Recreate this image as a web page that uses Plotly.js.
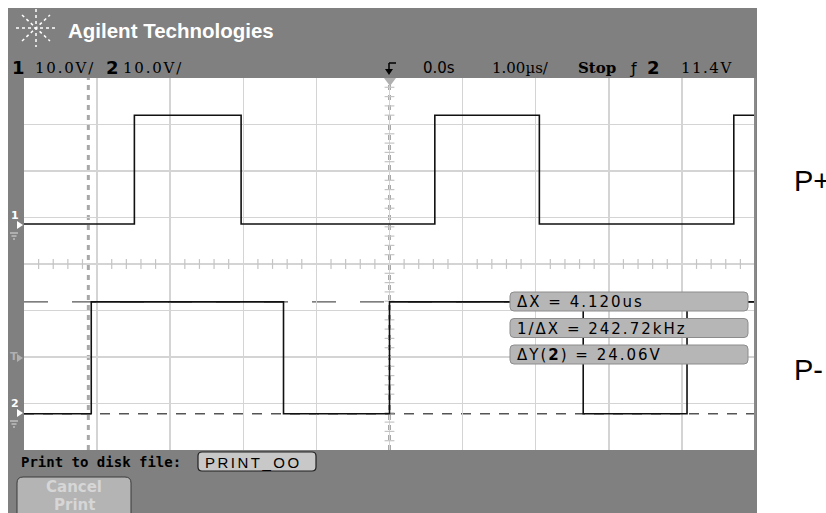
<!DOCTYPE html>
<html><head><meta charset="utf-8">
<script src="https://cdn.plot.ly/plotly-3.0.1.min.js"></script>
<style>html,body{margin:0;padding:0;background:#fff;} #c{width:826px;height:513px;}</style>
</head><body><div id="c"></div>
<script>
// Time in microseconds (1.00 us/div), volts relative to each channel's ground (10.0 V/div)
const ch1Times = [-5, -3.49, -2.03, 0.62, 2.05, 4.71, 5];
const ch1Volts = [0.2, 23.6, 0.2, 23.6, 0.2, 23.6, 23.6];
const ch2Times = [-5, -4.08, -1.45, 0.0, 2.65, 4.07, 5];
const ch2Volts = [0.0, 24.06, 0.0, 24.06, 0.0, 24.06, 24.06];
const ch1Ground = 8.4;    // ground marker position, display volts
const ch2Ground = -32.2;
const xCursors = [-4.12, 0];
const yCursors = [24.06, 0];
const measLabels = ['ΔX = 4.120us', '1/ΔX = 242.72kHz', 'ΔY(<b>2</b>) = 24.06V'];

const L = 24, R = 755, T = 78, B = 450;
const px = X => (X - L) / (R - L);
const py = Y => (B - Y) / (B - T);

function rrect(x0, y0, x1, y1, r) {
  const rx = r / (R - L), ry = r / (B - T);
  const a = px(x0), b = px(x1), top = py(y0), bot = py(y1);
  return `M${a + rx},${bot} L${b - rx},${bot} Q${b},${bot} ${b},${bot + ry} L${b},${top - ry} Q${b},${top} ${b - rx},${top} L${a + rx},${top} Q${a},${top} ${a},${top - ry} L${a},${bot + ry} Q${a},${bot} ${a + rx},${bot} Z`;
}

const shapes = [];
shapes.push({type: 'rect', xref: 'paper', yref: 'paper', x0: px(8), x1: px(757), y0: py(513), y1: py(8),
  fillcolor: '#808080', line: {width: 0}, layer: 'below'});
shapes.push({type: 'rect', xref: 'paper', yref: 'paper', x0: px(24), x1: px(755), y0: py(450), y1: py(78),
  fillcolor: '#ffffff', line: {width: 0}, layer: 'below'});
const cx = 36, cy = 28;
[[20, 0], [0, 19], [14, 13], [14, -13]].forEach(([dx, dy]) => {
  shapes.push({type: 'line', xref: 'paper', yref: 'paper', x0: px(cx - dx), x1: px(cx + dx), y0: py(cy - dy), y1: py(cy + dy),
    line: {color: '#ffffff', width: 1.5, dash: 'dot'}, layer: 'above'});
});
xCursors.forEach(t => shapes.push({type: 'line', xref: 'x', yref: 'paper', x0: t, x1: t, y0: 0, y1: 1,
  line: {color: '#a8a8a8', width: 3, dash: '5px,5px'}, layer: 'between'}));
yCursors.forEach((v, i) => shapes.push({type: 'line', xref: 'paper', yref: 'y', x0: 0, x1: 1, y0: ch2Ground + v, y1: ch2Ground + v,
  line: {color: '#555555', width: 1.3, dash: i === 0 ? '24px,24px' : '10px,9px'}, layer: 'between'}));
measLabels.forEach((m, i) => {
  const y0 = 292 + i * 26.5;
  shapes.push({type: 'path', xref: 'paper', yref: 'paper', path: rrect(510, y0, 748, y0 + 19, 4),
    fillcolor: '#b6b6b6', line: {color: '#8c8c8c', width: 1}, layer: 'above'});
});
shapes.push({type: 'path', xref: 'paper', yref: 'paper', path: rrect(198, 452, 316, 471, 4),
  fillcolor: '#c8c8c8', line: {color: '#202020', width: 1.2}, layer: 'above'});
shapes.push({type: 'path', xref: 'paper', yref: 'paper', path: rrect(17, 477, 131, 520, 6),
  fillcolor: '#b4b4b4', line: {color: '#3a3a3a', width: 1}, layer: 'above'});
shapes.push({type: 'line', xref: 'paper', yref: 'paper', x0: px(389), x1: px(396), y0: py(63), y1: py(63),
  line: {color: '#000', width: 1.5}, layer: 'above'});
shapes.push({type: 'line', xref: 'paper', yref: 'paper', x0: px(389), x1: px(389), y0: py(63), y1: py(72),
  line: {color: '#000', width: 1.5}, layer: 'above'});
shapes.push({type: 'path', xref: 'paper', yref: 'paper',
  path: `M${px(385)},${py(69)} L${px(393)},${py(69)} L${px(389)},${py(75)} Z`, fillcolor: '#000', line: {width: 0}, layer: 'above'});
shapes.push({type: 'path', xref: 'paper', yref: 'paper',
  path: `M${px(384)},${py(78)} L${px(396)},${py(78)} L${px(390)},${py(86)} Z`, fillcolor: '#b0b0b0', line: {width: 0}, layer: 'above'});
shapes.push({type: 'line', xref: 'paper', yref: 'paper', x0: 1, x1: 1, y0: py(450), y1: py(78),
  line: {color: '#8a8a8a', width: 2}, layer: 'above'});
// ground / trigger markers (arrows)
[[225, '#ffffff'], [413, '#ffffff'], [358, '#b0b0b0']].forEach(([Y, c]) => shapes.push({type: 'path', xref: 'paper', yref: 'paper',
  path: `M${px(17)},${py(Y - 4)} L${px(23)},${py(Y)} L${px(17)},${py(Y + 4)} Z`, fillcolor: c, line: {width: 0}, layer: 'above'}));
[233, 421].forEach(Y => [0, 3, 6].forEach(d => shapes.push({type: 'line', xref: 'paper', yref: 'paper',
  x0: px(10 + d / 2), x1: px(18 - d / 2), y0: py(Y + d), y1: py(Y + d), line: {color: '#dddddd', width: 1}, layer: 'above'})));

const tickX = [], tickY = [];
for (let k = -25; k <= 25; k++) if (k % 5 !== 0) tickX.push(k / 5);
for (let k = -20; k <= 20; k++) if (k % 5 !== 0) tickY.push(k * 2);

const traces = [
  {x: tickX, y: tickX.map(() => 0), mode: 'markers', hoverinfo: 'skip',
   marker: {symbol: 'line-ns', size: 7, line: {color: '#c4c4c4', width: 1.2}}},
  {x: tickY.map(() => 0), y: tickY, mode: 'markers', hoverinfo: 'skip',
   marker: {symbol: 'line-ew', size: 7, line: {color: '#c4c4c4', width: 1.2}}},
  {x: ch1Times, y: ch1Volts.map(v => v + ch1Ground), mode: 'lines', line: {shape: 'hv', color: '#111', width: 1.6}},
  {x: ch2Times, y: ch2Volts.map(v => v + ch2Ground), mode: 'lines', line: {shape: 'hv', color: '#111', width: 1.6}}
];

const mono = 'DejaVu Sans Mono';
const sans = 'DejaVu Sans';
const ann = [];
function A(text, X, Y, opts) {
  ann.push(Object.assign({text, xref: 'paper', yref: 'paper', x: px(X), y: py(Y), xanchor: 'left', yanchor: 'middle',
    showarrow: false, font: {family: sans, size: 15, color: '#000'}}, opts || {}));
}
A('<b>Agilent Technologies</b>', 66, 31, {font: {family: 'Liberation Sans', size: 20.5, color: '#fff'}});
A('<b>1</b>', 10, 67, {font: {family: sans, size: 18, color: '#000'}});
A('<span style="letter-spacing:1.8px">10.0V/</span>', 33, 68, {font: {family: 'DejaVu Serif', size: 15, color: '#000'}});
A('<b>2</b>', 104, 67, {font: {family: sans, size: 18, color: '#000'}});
A('<span style="letter-spacing:1.8px">10.0V/</span>', 121, 68, {font: {family: 'DejaVu Serif', size: 15, color: '#000'}});
A('0.0s', 421, 68, {font: {family: sans, size: 15, color: '#000'}});
A('1.00µs/', 490, 68, {font: {family: 'DejaVu Serif', size: 15, color: '#000'}});
A('<b>Stop</b>', 576, 68, {font: {family: 'DejaVu Serif', size: 15, color: '#000'}});
A('ƒ', 627, 68, {font: {family: sans, size: 16, color: '#000'}});
A('<b>2</b>', 645, 67, {font: {family: sans, size: 18, color: '#000'}});
A('<span style="letter-spacing:1.5px">11.4V</span>', 679, 68, {font: {family: 'DejaVu Serif', size: 15, color: '#000'}});
A('<b>1</b>', 9, 215, {font: {family: sans, size: 11, color: '#fff'}});
A('<b>2</b>', 9, 403, {font: {family: sans, size: 11, color: '#fff'}});
A('<b>T</b>', 8, 356, {font: {family: sans, size: 11, color: '#b0b0b0'}});
measLabels.forEach((m, i) => A('<span style="letter-spacing:2px">' + m + '</span>', 515, 302 + i * 26.5,
  {font: {family: sans, size: 15, color: '#000'}}));
A('<b>Print to disk file:</b>', 19, 462, {font: {family: mono, size: 14, color: '#000'}});
A('<span style="letter-spacing:2.5px">PRINT_OO</span>', 203, 462, {font: {family: 'Liberation Sans', size: 15, color: '#000'}});
A('<b>Cancel</b>', 74, 487, {xanchor: 'center', font: {family: sans, size: 15, color: '#d6d6d6'}});
A('<b>Print</b>', 74, 505, {xanchor: 'center', font: {family: sans, size: 15, color: '#d6d6d6'}});
A('P+', 792, 181, {font: {family: 'Liberation Sans', size: 29, color: '#000'}});
A('P-', 792, 370, {font: {family: 'Liberation Sans', size: 29, color: '#000'}});

const layout = {
  width: 826, height: 513,
  margin: {l: L, r: 826 - R, t: T, b: 513 - B, pad: 0},
  paper_bgcolor: '#ffffff', plot_bgcolor: 'rgba(0,0,0,0)',
  showlegend: false,
  xaxis: {range: [-5, 5], dtick: 1, tick0: 0, showgrid: true, gridcolor: '#d4d4d4', gridwidth: 1.5,
    zeroline: false, showticklabels: false, ticks: '', showline: false, fixedrange: true},
  yaxis: {range: [-40, 40], dtick: 10, tick0: 0, showgrid: true, gridcolor: '#d4d4d4', gridwidth: 1.5,
    zeroline: false, showticklabels: false, ticks: '', showline: false, fixedrange: true},
  shapes, annotations: ann
};
Plotly.newPlot('c', traces, layout, {displayModeBar: false, staticPlot: true});
</script></body></html>
